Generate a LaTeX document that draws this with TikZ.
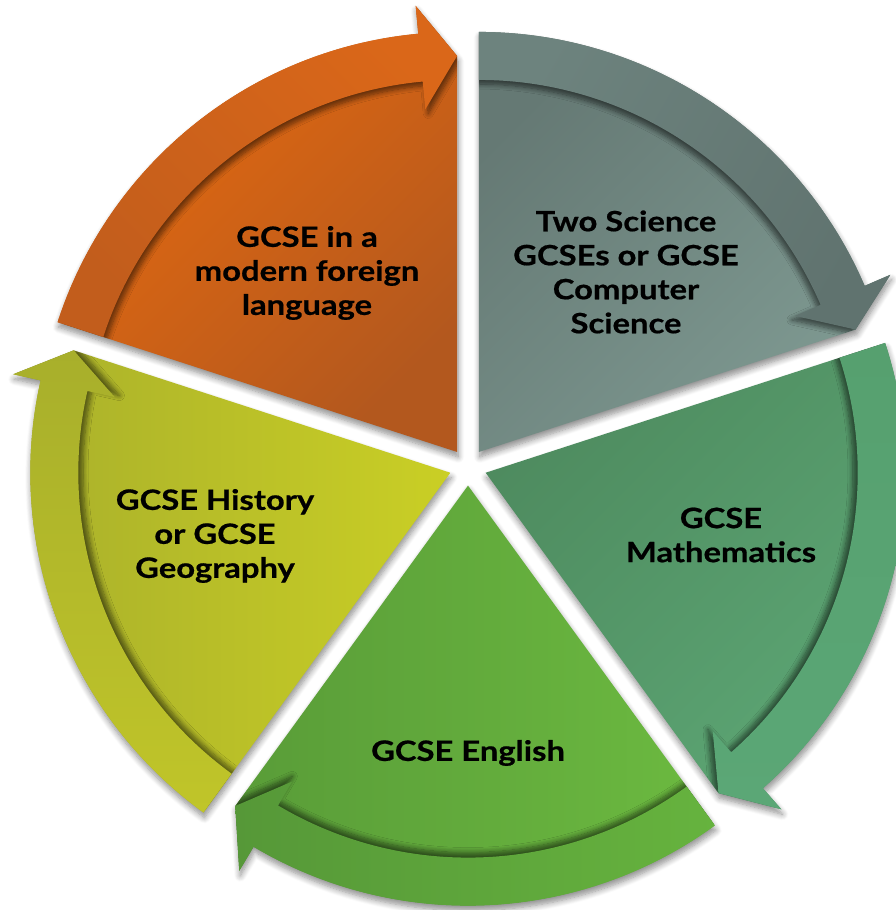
\documentclass[tikz,border=0pt]{standalone}
\usepackage{fontspec}
\setmainfont{Lato}[BoldFeatures={FakeStretch=1.17,FakeBold=0.6}]
\usetikzlibrary{shadows.blur}
\definecolor{orA}{HTML}{E66A0F}\definecolor{orB}{HTML}{B3581E}
\definecolor{orC}{HTML}{DA6719}\definecolor{orD}{HTML}{C25D1C}
\definecolor{grA}{HTML}{657974}\definecolor{grB}{HTML}{7F9A92}
\definecolor{grC}{HTML}{6D837E}\definecolor{grD}{HTML}{60736F}
\definecolor{tlA}{HTML}{4E8B5F}\definecolor{tlB}{HTML}{5DA775}
\definecolor{tlC}{HTML}{56A06F}\definecolor{tlD}{HTML}{5BA776}
\definecolor{gnA}{HTML}{599C38}\definecolor{gnB}{HTML}{6CBA40}
\definecolor{gnC}{HTML}{66B33E}\definecolor{gnD}{HTML}{569838}
\definecolor{ylA}{HTML}{A8AF2B}\definecolor{ylB}{HTML}{CACF25}
\definecolor{ylC}{HTML}{A8AF2B}\definecolor{ylD}{HTML}{C0C529}
\newcommand\outlinepath{(0,0) -- (\aA:420) arc[start angle=\aA,end angle=\aP,radius=420] -- (\aP:448) -- (\aB:396) -- cycle}
\newcommand\bandpath{(\aA:420) arc[start angle=\aA,end angle=\aP,radius=420] -- (\aP:448) -- (\aB:396) -- (\aP:344) -- (\aP:372) arc[start angle=\aP,end angle=\aA,radius=372] -- cycle}
\newcommand\segangles[1]{%
  \pgfmathsetmacro\aA{#1+36}%
  \pgfmathsetmacro\aB{#1-36}%
  \pgfmathsetmacro\aP{#1-30.7}%
  \pgfmathsetmacro\sx{-5*cos(#1)}%
  \pgfmathsetmacro\sy{-5*sin(#1)}}
% #1 bisector, #2 colour prefix, #3 body angle, #4 band angle
\newcommand\gcseShadow[1]{%
  \segangles{#1}%
  \begin{scope}[shift={(468,443)},shift={(#1:18.6)}]
    \path[outershadow] \outlinepath;
  \end{scope}}
\newcommand\gcseSeg[4]{%
  \segangles{#1}%
  \begin{scope}[shift={(468,443)},shift={(#1:18.6)}]
    \path[top color=#2A,bottom color=#2B,shading angle=#3] \outlinepath;
    \begin{scope}
      \clip \outlinepath;
      \path[blur shadow={shadow xshift=\sx pt,shadow yshift=\sy pt,shadow blur radius=5pt,shadow opacity=55,shadow blur steps=8}] \bandpath;
    \end{scope}
    \path[top color=#2C,bottom color=#2D,shading angle=#4] \bandpath;
  \end{scope}}
\begin{document}
\begin{tikzpicture}[x=1pt,y=1pt,
  outershadow/.style={blur shadow={shadow xshift=1pt,shadow yshift=-5pt,shadow blur radius=6pt,shadow opacity=45,shadow blur steps=8}},
  lbl/.style={font=\fontsize{28}{34}\selectfont\bfseries,align=center,text=black,inner sep=0pt}]
\useasboundingbox (0,0) rectangle (895,910);
\gcseShadow{126}\gcseShadow{54}\gcseShadow{-18}\gcseShadow{-90}\gcseShadow{198}
\gcseSeg{126}{or}{45}{-45}
\gcseSeg{54}{gr}{45}{60}
\gcseSeg{-18}{tl}{45}{0}
\gcseSeg{-90}{gn}{90}{-90}
\gcseSeg{198}{yl}{90}{0}
\node[lbl] (lang) at (307,637) {GCSE in a\\modern foreign\\language};
\node[lbl] (sci) at (626,638) {Two Science\\GCSEs or GCSE\\Computer\\Science};
\node[lbl] (maths) at (721,375) {GCSE\\Mathematics};
\node[lbl] (eng) at (468,157) {GCSE English};
\node[lbl] (hist) at (215,374) {GCSE History\\or GCSE\\Geography};
\end{tikzpicture}
\end{document}
